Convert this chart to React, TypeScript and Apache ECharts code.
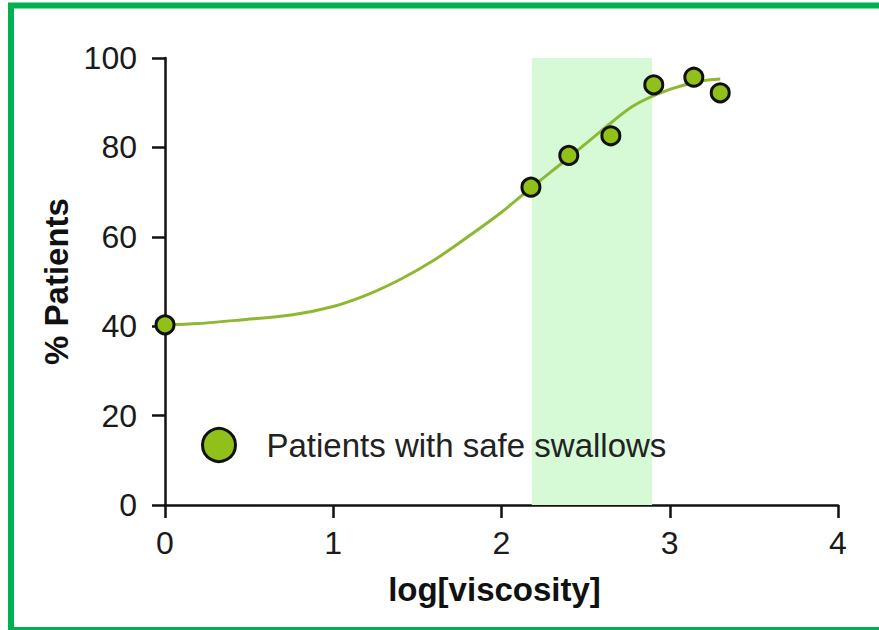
import React, { useEffect, useRef } from "react";
import * as echarts from "echarts";

const xTicks = [0, 1, 2, 3, 4];
const yTicks = [0, 20, 40, 60, 80, 100];

const pointX = [0, 2.175, 2.4, 2.65, 2.905, 3.143, 3.3];
const pointY = [40.3, 71.1, 78.2, 82.6, 94.0, 95.7, 92.2];

const curveX = [0, 0.2, 0.45, 0.75, 1.0, 1.2, 1.4, 1.6, 1.8, 2.0, 2.19, 2.39, 2.59, 2.78, 2.98, 3.18, 3.3];
const curveY = [40.3, 40.6, 41.4, 42.5, 44.4, 47.0, 50.5, 54.8, 60.0, 65.5, 71.4, 77.4, 83.6, 89.2, 92.7, 94.8, 95.3];

const bandRange = [2.18, 2.895];

const seriesName = "Patients with safe swallows";
const xName = "log[viscosity]";
const yName = "% Patients";

export default function App() {
  const ref = useRef<HTMLDivElement>(null);
  useEffect(() => {
    if (!ref.current) return;
    const chart = echarts.init(ref.current, null, { renderer: "svg" });
    const font = "'Liberation Sans', Arial, sans-serif";
    chart.setOption({
      animation: false,
      backgroundColor: "#ffffff",
      textStyle: { fontFamily: font },
      grid: { left: 165, right: 41, top: 58, bottom: 125 },
      graphic: [
        {
          type: "rect",
          shape: { x: 11, y: 5.5, width: 900, height: 624.5 },
          style: { fill: "none", stroke: "#00b050", lineWidth: 6 },
          z: 100,
        },
      ],
      legend: {
        data: [seriesName],
        left: 196,
        top: 422,
        itemWidth: 33,
        itemHeight: 33,
        icon: "circle",
        itemStyle: { color: "#92c01a", borderColor: "#111", borderWidth: 3 },
        textStyle: { fontSize: 33, color: "#222", fontFamily: font, padding: [0, 0, 0, 26] },
      },
      xAxis: {
        type: "value",
        min: xTicks[0],
        max: xTicks[xTicks.length - 1],
        interval: 1,
        name: xName,
        nameLocation: "middle",
        nameGap: 68,
        nameTextStyle: { fontSize: 33, fontWeight: "bold", color: "#111", fontFamily: font, padding: [0, 14, 0, 0] },
        axisLine: { show: true, lineStyle: { color: "#111", width: 2.5 } },
        axisTick: { show: true, length: 13, lineStyle: { color: "#111", width: 2.5 } },
        axisLabel: { fontSize: 32, color: "#1a1a1a", margin: 22, fontFamily: font },
        splitLine: { show: false },
      },
      yAxis: {
        type: "value",
        min: yTicks[0],
        max: yTicks[yTicks.length - 1],
        interval: 20,
        name: yName,
        nameLocation: "middle",
        nameGap: 88,
        nameRotate: 90,
        nameTextStyle: { fontSize: 33, fontWeight: "bold", color: "#111", fontFamily: font },
        axisLine: { show: true, lineStyle: { color: "#111", width: 2.5 } },
        axisTick: { show: true, length: 13, lineStyle: { color: "#111", width: 2.5 } },
        axisLabel: { fontSize: 32, color: "#1a1a1a", margin: 28, fontFamily: font },
        splitLine: { show: false },
      },
      series: [
        {
          type: "line",
          name: "band",
          data: [],
          z: 1,
          silent: true,
          markArea: {
            silent: true,
            itemStyle: { color: "#d5fad5" },
            data: [[{ xAxis: bandRange[0], yAxis: 0 }, { xAxis: bandRange[1], yAxis: 100 }]],
          },
        },
        {
          type: "line",
          name: "fit",
          data: curveX.map((x, i) => [x, curveY[i]]),
          smooth: 0.3,
          showSymbol: false,
          symbol: "none",
          z: 3,
          lineStyle: { color: "#8cb832", width: 3 },
        },
        {
          type: "scatter",
          name: seriesName,
          data: pointX.map((x, i) => [x, pointY[i]]),
          symbolSize: 18,
          z: 5,
          itemStyle: { color: "#92c01a", borderColor: "#111", borderWidth: 3, opacity: 1 },
        },
      ],
    });
    return () => chart.dispose();
  }, []);
  return (
    <div
      ref={ref}
      style={{ position: "fixed", left: 0, top: 0, width: 879, height: 630 }}
    />
  );
}
